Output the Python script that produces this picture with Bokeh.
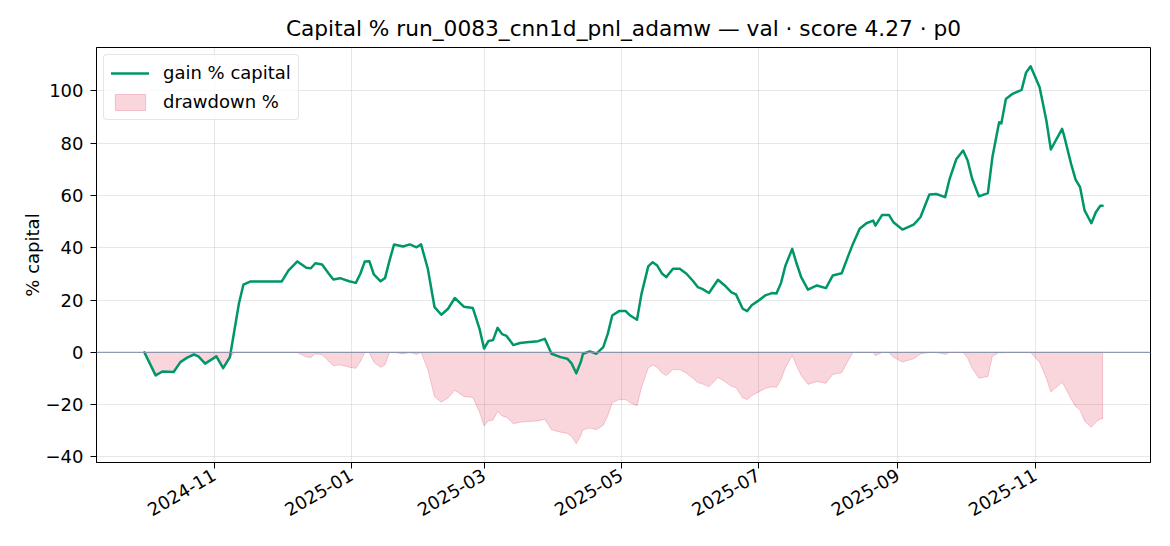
import numpy as np
import pandas as pd
from bokeh.plotting import figure
from bokeh.models import (Range1d, MonthsTicker, DatetimeTickFormatter, SingleIntervalTicker,
                          CustomJSTickFormatter, Legend, LegendItem, Span)
from bokeh.embed import file_html
from bokeh.resources import INLINE
from math import pi

# ---- data ----
start_date = "2024-10-01"
day_offsets = [0, 5, 8, 13, 16, 19, 22, 24, 27, 32, 35, 38, 40, 42, 44, 47, 61, 64, 68, 72,
               74, 76, 79, 82, 84, 87, 91, 94, 96, 98, 100, 102, 105, 107, 109, 111, 115, 118, 121, 123,
               126, 129, 132, 135, 138, 142, 146, 149, 151, 153, 155, 157, 159, 161, 164, 167, 170, 175, 178, 181,
               185, 188, 190, 192, 194, 195, 198, 201, 204, 206, 208, 211, 214, 216, 219, 221, 224, 226, 228, 230,
               232, 235, 238, 241, 244, 246, 248, 251, 255, 258, 261, 263, 266, 268, 270, 273, 276, 279, 281, 283,
               285, 288, 290, 292, 295, 299, 303, 306, 310, 313, 315, 318, 321, 324, 325, 328, 331, 333, 337, 342,
               345, 349, 352, 356, 358, 361, 364, 366, 368, 371, 375, 377, 380, 381, 383, 386, 390, 392, 394, 398,
               401, 403, 408, 409, 412, 414, 416, 418, 421, 423, 425, 426]
gain_pct = [0.0, -8.8, -7.3, -7.5, -3.7, -2.0, -0.8, -1.5, -4.3, -1.5, -6.0, -1.8, 8.4, 18.6, 25.9, 27.1, 27.1, 31.3, 34.8, 32.4,
            32.2, 34.1, 33.6, 30.1, 27.9, 28.4, 27.2, 26.6, 30.1, 34.8, 34.9, 29.8, 27.2, 28.5, 35.2, 41.3, 40.5, 41.3, 40.2, 41.3,
            32.0, 17.3, 14.4, 16.7, 20.8, 17.5, 17.0, 9.0, 1.5, 4.4, 4.7, 9.4, 7.0, 6.3, 2.8, 3.6, 3.9, 4.3, 5.2, -0.5,
            -1.8, -2.4, -4.3, -8.0, -3.7, -0.5, 0.4, -0.5, 2.0, 7.1, 14.1, 15.8, 15.8, 14.1, 12.5, 22.4, 32.9, 34.5, 33.2, 30.3,
            28.8, 32.0, 32.0, 30.1, 27.2, 25.0, 24.3, 22.7, 27.8, 25.6, 23.0, 22.2, 16.7, 15.8, 18.0, 19.8, 21.8, 22.7, 22.5, 26.5,
            33.2, 39.6, 33.9, 28.8, 24.0, 25.6, 24.6, 29.4, 30.3, 37.1, 41.5, 47.3, 49.4, 50.4, 48.5, 52.6, 52.6, 49.8, 47.0, 48.9,
            51.7, 60.4, 60.6, 59.4, 66.4, 74.0, 77.2, 73.4, 66.4, 59.7, 60.9, 74.6, 88.0, 87.6, 96.9, 98.9, 100.4, 107.1, 109.4, 101.4,
            88.7, 77.6, 85.5, 82.5, 72.1, 66.1, 63.2, 54.3, 49.4, 53.6, 56.1, 56.1]
y_ticks_step = 20
tick_months = [0, 2, 4, 6, 8, 10]  # Jan, Mar, May, Jul, Sep, Nov

dates = pd.Timestamp(start_date) + pd.to_timedelta(day_offsets, unit="D")
g = np.array(gain_pct, dtype=float)
peak = np.maximum.accumulate(g)
drawdown_pct = ((100.0 + g) / (100.0 + peak) - 1.0) * 100.0

# axis limits with matplotlib-like 5% margins
span_x = dates[-1] - dates[0]
x_lo, x_hi = dates[0] - 0.05 * span_x, dates[-1] + 0.05 * span_x
lo = min(g.min(), drawdown_pct.min())
hi = max(g.max(), drawdown_pct.max())
pad = 0.05 * (hi - lo)

FONT = "DejaVu Sans"
FS = "18px"
p = figure(x_axis_type="datetime", output_backend="svg", toolbar_location=None,
           frame_width=1054, frame_height=415,
           min_border_left=96, min_border_right=4, min_border_top=47, min_border_bottom=66,
           x_range=Range1d(x_lo, x_hi), y_range=Range1d(lo - pad, hi + pad),
           background_fill_color="white", border_fill_color="white")

p.title.text = "Capital % run_0083_cnn1d_pnl_adamw \u2014 val \u00b7 score 4.27 \u00b7 p0"
p.title.align = "center"
p.title.text_font = FONT
p.title.text_font_size = "21.7px"
p.title.text_font_style = "normal"
p.title.text_color = "black"
p.title.standoff = 14

# drawdown area
xs = np.concatenate([dates.values, dates.values[::-1]])
ys = np.concatenate([drawdown_pct, np.zeros(len(drawdown_pct))])
dd = p.patch(x=xs, y=ys, fill_color="#dc143c", fill_alpha=0.18,
             line_color="#dc143c", line_alpha=0.2, line_width=1)

zero = Span(location=0, dimension="width", line_color="#8493ab", line_width=1.2, line_alpha=0.9)
p.add_layout(zero)

ln = p.line(x=dates, y=g, line_color="#00966a", line_width=2.5, line_join="round", line_cap="round")

# axes
p.xaxis.ticker = MonthsTicker(months=tick_months)
fmt = "%Y-%m"
p.xaxis.formatter = DatetimeTickFormatter(years=fmt, months=fmt, days=fmt, hours=fmt,
                                          minutes=fmt, seconds=fmt, milliseconds=fmt,
                                          microseconds=fmt, hourmin=fmt, minsec=fmt)
p.xaxis.major_label_orientation = pi / 6
p.yaxis.ticker = SingleIntervalTicker(interval=y_ticks_step)
p.yaxis.formatter = CustomJSTickFormatter(code="return tick < 0 ? '\\u2212' + Math.abs(tick) : String(tick);")
p.yaxis.axis_label = "% capital"
p.yaxis.axis_label_text_font = FONT
p.yaxis.axis_label_text_font_size = FS
p.yaxis.axis_label_text_font_style = "normal"
p.yaxis.axis_label_text_color = "black"
p.yaxis.axis_label_standoff = 0

for ax in (p.xaxis, p.yaxis):
    ax.major_label_text_font = FONT
    ax.major_label_text_font_size = FS
    ax.major_label_text_color = "black"
    ax.axis_line_color = "black"
    ax.axis_line_width = 1
    ax.major_tick_line_color = "black"
    ax.major_tick_out = 6
    ax.major_tick_in = 0
    ax.minor_tick_line_color = None
p.yaxis.major_label_standoff = 7
p.xaxis.major_label_standoff = 5

p.outline_line_color = "black"
p.outline_line_width = 1
p.outline_line_alpha = 1

p.grid.grid_line_color = "#b0b0b0"
p.grid.grid_line_alpha = 0.3
p.grid.grid_line_width = 1

legend = Legend(items=[LegendItem(label="gain % capital", renderers=[ln]),
                       LegendItem(label="drawdown %", renderers=[dd])],
                location="top_left")
legend.label_text_font = FONT
legend.label_text_font_size = FS
legend.label_text_color = "black"
legend.glyph_width = 38
legend.glyph_height = 20
legend.label_height = 20
legend.label_standoff = 14
legend.spacing = 8
legend.padding = 7
legend.margin = 7
legend.border_line_color = "#cccccc"
legend.border_line_width = 1
legend.border_radius = 4
legend.background_fill_alpha = 0.8
p.add_layout(legend)

open("out.html", "w").write(file_html(p, INLINE))
